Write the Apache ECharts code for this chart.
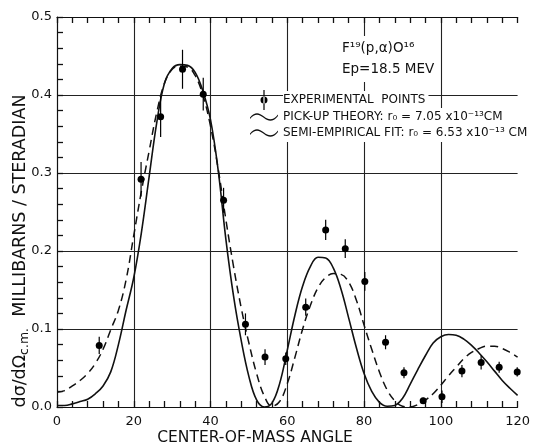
<!DOCTYPE html>
<html>
<head>
<meta charset="utf-8">
<script src="https://cdn.jsdelivr.net/npm/echarts@6/dist/echarts.min.js"></script>
<style>
  html, body { margin: 0; padding: 0; background: #fff; }
  #chart { width: 533px; height: 446px; }
</style>
</head>
<body>
<div id="chart"></div>
<script>
// curve sample angles (degrees, c.m.)
const curveAngles = [0, 2, 4, 6, 8, 10, 12, 14, 16, 18, 20, 22, 24, 26, 28, 30, 32, 34, 36, 38, 40,
    42, 44, 46, 48, 50, 52, 54, 56, 58, 60, 62, 64, 66, 68, 70, 72, 74, 76, 78, 80,
    82, 84, 86, 88, 90, 92, 94, 96, 98, 100, 102, 104, 106, 108, 110, 112, 114, 116, 118, 120];

// pick-up theory, r0 = 7.05e-13 cm (solid)
const pickUp = [0.002, 0.002, 0.004, 0.007, 0.010, 0.017, 0.027, 0.045, 0.080, 0.124, 0.166,
    0.224, 0.295, 0.365, 0.415, 0.434, 0.439, 0.438, 0.429, 0.405, 0.368,
    0.303, 0.215, 0.142, 0.085, 0.039, 0.009, 0.000, 0.005, 0.030, 0.073,
    0.118, 0.155, 0.180, 0.192, 0.191, 0.178, 0.151, 0.114, 0.076, 0.043,
    0.020, 0.006, 0.001, 0.002, 0.011, 0.029, 0.048, 0.066, 0.082, 0.090,
    0.093, 0.092, 0.087, 0.079, 0.069, 0.058, 0.046, 0.034, 0.024, 0.015];

// semi-empirical fit, r0 = 6.53e-13 cm (dashed)
const semiEmpirical = [0.019, 0.021, 0.027, 0.034, 0.043, 0.056, 0.074, 0.099, 0.124, 0.163, 0.220,
    0.277, 0.328, 0.378, 0.415, 0.433, 0.437, 0.436, 0.425, 0.400, 0.360,
    0.305, 0.240, 0.180, 0.127, 0.082, 0.043, 0.014, 0.001, 0.007, 0.030,
    0.064, 0.100, 0.130, 0.153, 0.166, 0.171, 0.170, 0.160, 0.137, 0.105,
    0.074, 0.045, 0.022, 0.008, 0.001, 0.000, 0.003, 0.009, 0.017, 0.028,
    0.040, 0.051, 0.062, 0.070, 0.075, 0.078, 0.078, 0.075, 0.070, 0.064];

// experimental points
const expAngles = [11, 21.9, 27, 32.7, 38.1, 43.4, 49.1, 54.2, 59.6, 64.8, 70, 75.1, 80.2,
    85.6, 90.4, 95.4, 100.3, 105.5, 110.5, 115.2, 119.9];
const expValues = [0.079, 0.292, 0.372, 0.433, 0.401, 0.265, 0.106, 0.064, 0.062, 0.128, 0.227,
    0.203, 0.161, 0.083, 0.044, 0.008, 0.013, 0.046, 0.057, 0.051, 0.045];
const expErrors = [0.011, 0.022, 0.026, 0.025, 0.021, 0.016, 0.014, 0.010, 0.008, 0.011, 0.013,
    0.012, 0.012, 0.009, 0.007, 0.004, 0.008, 0.008, 0.009, 0.007, 0.006];

const FONT = 'DejaVu Sans';
const INK = '#111';

const legendLabels = {
    'EXPERIMENTAL POINTS': 'EXPERIMENTAL  POINTS',
    'PICK-UP THEORY': 'PICK-UP THEORY: r\u2080 = 7.05 x10\u207B\u00B9\u00B3CM',
    'SEMI-EMPIRICAL FIT': 'SEMI-EMPIRICAL FIT: r\u2080 = 6.53 x10\u207B\u00B9\u00B3 CM'
};

const pointIcon = 'path://M13.4,0 L14.6,0 L14.6,20 L13.4,20 Z M10.5,10 A3.5,3.5 0 1,0 17.5,10 A3.5,3.5 0 1,0 10.5,10 Z';
const tildeIcon = 'path://M0,5 C5,-1 9,0 14,4 C19,8 23,8 28,2 L28,3.6 C23,9.6 19,9.6 14,5.6 C9,1.6 5,0.6 0,6.6 Z';

const chart = echarts.init(document.getElementById('chart'));

function axisParts() {
    return {
        axisLine: { show: true, lineStyle: { color: INK, width: 1.2 } },
        axisTick: { show: true, inside: true, length: 6, lineStyle: { color: INK, width: 1.3 } },
        minorTick: { show: true, splitNumber: 5, length: 6, lineStyle: { color: INK, width: 1.3 } }
    };
}

const option = {
    animation: false,
    backgroundColor: '#fff',
    grid: { left: 57, right: 7, top: 17, bottom: 39 },
    title: {
        text: 'F\u00B9\u2079(p,\u03B1)O\u00B9\u2076\nEp=18.5 MEV',
        left: 338,
        top: 36,
        padding: [2, 4, 2, 4],
        backgroundColor: '#fff',
        textStyle: { fontFamily: FONT, fontSize: 13.5, fontWeight: 'normal', color: INK, lineHeight: 21 }
    },
    legend: {
        orient: 'vertical',
        left: 250,
        top: 90,
        padding: 0,
        itemWidth: 28,
        itemHeight: 20,
        itemGap: -2,
        selectedMode: false,
        itemStyle: { borderWidth: 0, opacity: 1 },
        textStyle: {
            fontFamily: FONT, fontSize: 12, color: INK,
            backgroundColor: '#fff', padding: [3, 3, 3, 0]
        },
        formatter: name => legendLabels[name],
        data: [
            { name: 'EXPERIMENTAL POINTS', icon: pointIcon },
            { name: 'PICK-UP THEORY', icon: tildeIcon },
            { name: 'SEMI-EMPIRICAL FIT', icon: tildeIcon }
        ]
    },
    xAxis: [
        Object.assign({
            type: 'value',
            position: 'bottom',
            min: 0,
            max: 120,
            interval: 20,
            axisLabel: { fontFamily: FONT, fontSize: 13, color: INK, margin: 8 },
            splitLine: { show: true, showMinLine: false, showMaxLine: false, lineStyle: { color: '#222', width: 1.1 } }
        }, axisParts()),
        Object.assign({
            type: 'value',
            position: 'top',
            min: 0,
            max: 120,
            interval: 20,
            axisLabel: { show: false },
            splitLine: { show: false }
        }, axisParts())
    ],
    yAxis: Object.assign({
        type: 'value',
        min: 0,
        max: 0.5,
        interval: 0.1,
        axisLabel: {
            fontFamily: FONT, fontSize: 13, color: INK, margin: 5,
            formatter: v => v.toFixed(1)
        },
        splitLine: { show: true, showMinLine: false, showMaxLine: false, lineStyle: { color: '#222', width: 1.1 } }
    }, axisParts()),
    graphic: [
        {
            type: 'text',
            x: 20,
            y: 251,
            rotation: Math.PI / 2,
            z: 10,
            style: {
                text: '{m|d\u03C3/d\u03A9}{s|c.m.}{m|  MILLIBARNS / STERADIAN}',
                align: 'center',
                verticalAlign: 'middle',
                fill: INK,
                rich: {
                    m: { fontFamily: FONT, fontSize: 17.5, fill: INK, lineHeight: 22, verticalAlign: 'middle' },
                    s: { fontFamily: FONT, fontSize: 12.5, fill: INK, lineHeight: 22, verticalAlign: 'bottom', padding: [9, 0, 0, 0] }
                }
            }
        },
        {
            type: 'text',
            x: 255,
            y: 438,
            z: 10,
            style: {
                text: 'CENTER-OF-MASS ANGLE',
                align: 'center',
                verticalAlign: 'middle',
                fill: INK,
                fontFamily: FONT,
                fontSize: 15.5
            }
        }
    ],
    series: [
        {
            name: 'PICK-UP THEORY',
            type: 'line',
            xAxisIndex: 0,
            data: curveAngles.map((a, i) => [a, pickUp[i]]),
            symbol: 'none',
            smooth: 0.4,
            color: INK,
            lineStyle: { color: INK, width: 1.6 },
            z: 3
        },
        {
            name: 'SEMI-EMPIRICAL FIT',
            type: 'line',
            xAxisIndex: 0,
            data: curveAngles.map((a, i) => [a, semiEmpirical[i]]),
            symbol: 'none',
            smooth: 0.4,
            color: INK,
            lineStyle: { color: INK, width: 1.5, type: [8, 5] },
            z: 3
        },
        {
            name: 'error bars',
            type: 'custom',
            xAxisIndex: 0,
            data: expAngles.map((a, i) => [a, expValues[i] - expErrors[i], expValues[i] + expErrors[i]]),
            encode: { x: 0, y: [1, 2] },
            renderItem: function (params, api) {
                const lo = api.coord([api.value(0), api.value(1)]);
                const hi = api.coord([api.value(0), api.value(2)]);
                return {
                    type: 'line',
                    shape: { x1: lo[0], y1: lo[1], x2: hi[0], y2: hi[1] },
                    style: { stroke: '#000', lineWidth: 1.2 }
                };
            },
            z: 4
        },
        {
            name: 'EXPERIMENTAL POINTS',
            type: 'scatter',
            xAxisIndex: 0,
            data: expAngles.map((a, i) => [a, expValues[i]]),
            symbol: 'circle',
            symbolSize: 7,
            color: '#000',
            itemStyle: { color: '#000', opacity: 1 },
            z: 5
        }
    ]
};

chart.setOption(option);
</script>
</body>
</html>
